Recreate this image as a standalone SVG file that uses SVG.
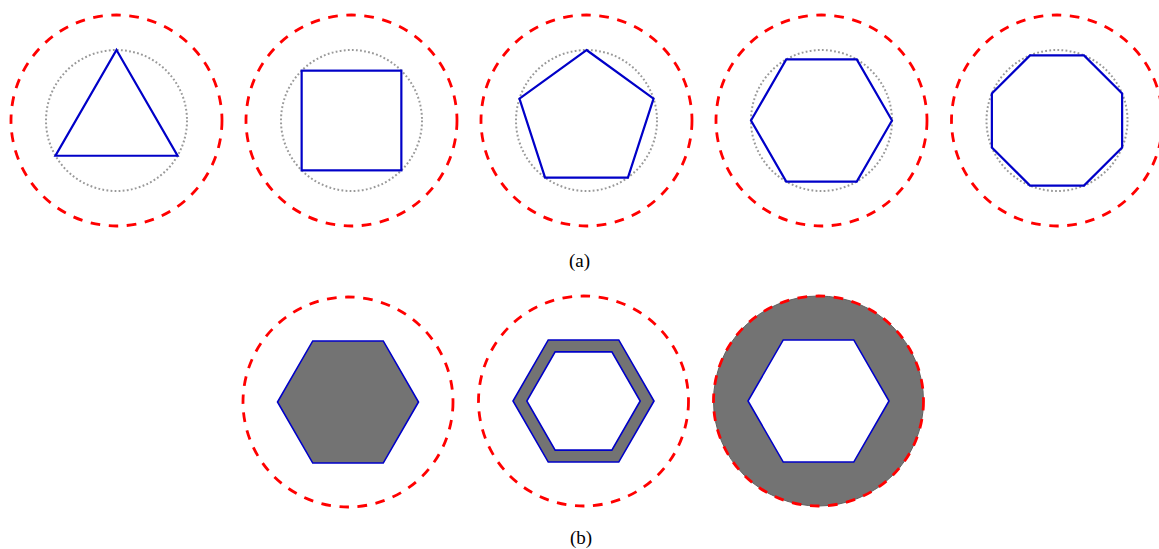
<svg xmlns="http://www.w3.org/2000/svg" width="1159" height="549" viewBox="0 0 1159 549">
<style>
.outer{fill:none;stroke:#ff0000;stroke-width:2.8;stroke-dasharray:9.6 8.6}
.guide{fill:none;stroke:#999999;stroke-width:2;stroke-dasharray:1.8 2.3}
.poly{fill:none;stroke:#0000c8;stroke-width:2.2;stroke-linejoin:miter}
.solid{fill:#737373;stroke:#0000c8;stroke-width:1.6}
.hole{fill:#ffffff;stroke:#0000c8;stroke-width:1.6}
.lbl{font-family:"Liberation Serif","Times New Roman",serif;font-size:19px;fill:#000;text-anchor:middle}
</style>
<rect width="1159" height="549" fill="#ffffff"/>
<g id="a-triangle">
<circle class="outer" cx="116.5" cy="120.5" r="105.5"/>
<circle class="guide" cx="116.5" cy="120.5" r="70.5"/>
<polygon class="poly" points="116.5,50 177.55,155.75 55.45,155.75"/>
</g>
<g id="a-square">
<circle class="outer" cx="351.5" cy="120.5" r="105.5"/>
<circle class="guide" cx="351.5" cy="120.5" r="70.5"/>
<rect class="poly" x="301.65" y="70.65" width="99.7" height="99.7"/>
</g>
<g id="a-pentagon">
<circle class="outer" cx="586.5" cy="120.5" r="105.5"/>
<circle class="guide" cx="586.5" cy="120.5" r="70.5"/>
<polygon class="poly" points="586.5,50 653.55,98.71 627.94,177.54 545.06,177.54 519.45,98.71"/>
</g>
<g id="a-hexagon">
<circle class="outer" cx="821.5" cy="120.5" r="105.5"/>
<circle class="guide" cx="821.5" cy="120.5" r="70.5"/>
<polygon class="poly" points="892,120.5 856.75,181.56 786.25,181.56 751,120.5 786.25,59.44 856.75,59.44"/>
</g>
<g id="a-octagon">
<circle class="outer" cx="1057" cy="120.5" r="105.5"/>
<circle class="guide" cx="1057" cy="120.5" r="70.5"/>
<polygon class="poly" points="1122.13,93.52 1122.13,147.48 1084.0,185.63 1030.0,185.63 991.87,147.48 991.87,93.52 1030.0,55.37 1084.0,55.37"/>
</g>
<text class="lbl" x="579.5" y="267">(a)</text>
<g id="b-solid">
<circle class="outer" cx="348" cy="402" r="105"/>
<polygon class="solid" points="418.5,402 383.25,463.06 312.75,463.06 277.5,402 312.75,340.94 383.25,340.94"/>
</g>
<g id="b-ring">
<circle class="outer" cx="583.5" cy="401" r="105"/>
<polygon class="solid" points="654,401 618.75,462.06 548.25,462.06 513,401 548.25,339.94 618.75,339.94"/>
<polygon class="hole" points="640.2,401 611.85,450.1 555.15,450.1 526.8,401 555.15,351.9 611.85,351.9"/>
</g>
<g id="b-disk">
<circle cx="818.5" cy="401" r="105" fill="#737373" stroke="#606060" stroke-width="1"/>
<circle class="outer" cx="818.5" cy="401" r="105"/>
<polygon class="hole" points="889,401 853.75,462.06 783.25,462.06 748,401 783.25,339.94 853.75,339.94"/>
</g>
<text class="lbl" x="581" y="544">(b)</text>
</svg>
